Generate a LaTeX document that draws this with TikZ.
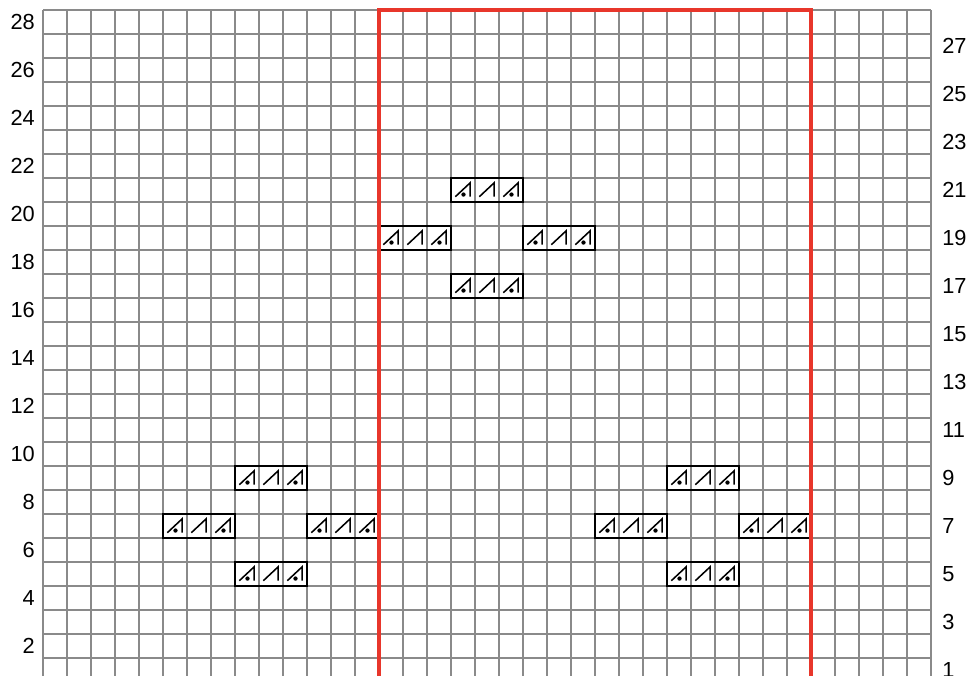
\documentclass[tikz,border=0pt]{standalone}
\usepackage{fontspec}
\setmainfont{Liberation Sans}
\usepackage{tikz}
\definecolor{chartred}{RGB}{232,54,43}
\definecolor{gridgray}{RGB}{138,138,138}

\begin{document}
\begin{tikzpicture}[
  x=0.6cm, y=0.6cm,
  gridline/.style={draw=gridgray, line width=0.85pt},
  redline/.style={draw=chartred, line width=3.2pt, line join=miter},
  blockframe/.style={draw=black, line width=1.9pt},
  symline/.style={draw=black, line width=1.1pt},
  rowlabel/.style={inner sep=0pt, font=\fontsize{15.5}{18}\selectfont},
  plaincell/.pic={\draw[symline] (0.18,0.22) -- (0.8,0.8) -- (0.8,0.22);},
  dotcell/.pic={\draw[symline] (0.18,0.22) -- (0.8,0.8) -- (0.8,0.22);
    \fill (0.52,0.31) circle (0.09);}
]
\clip (-1.7917,0.25) rectangle (38.7083,28.4167);
% chart grid
\draw[gridline, step=0.6cm] (0,0.25) grid (37,28);
% row numbers
\foreach \r in {2,4,...,28}
  \node[rowlabel, anchor=east] (left\r) at (-0.33,\r-0.5) {\r};
\foreach \r in {1,3,...,27}
  \node[rowlabel, anchor=west] (right\r) at (37.46,\r-0.5) {\r};
% three-stitch motifs
\foreach \c/\r in {17/21,14/19,20/19,17/17,8/9,5/7,11/7,8/5,26/9,23/7,29/7,26/5} {
  \pic (a\c-\r) at (\c,\r-1) {dotcell};
  \pic (b\c-\r) at (\c+1,\r-1) {plaincell};
  \pic (c\c-\r) at (\c+2,\r-1) {dotcell};
  \draw[blockframe] (\c,\r-1) rectangle ++(3,1);
}
% repeat outline
\draw[redline] (14,0.25) |- (32,28) -- (32,0.25);
\end{tikzpicture}
\end{document}
